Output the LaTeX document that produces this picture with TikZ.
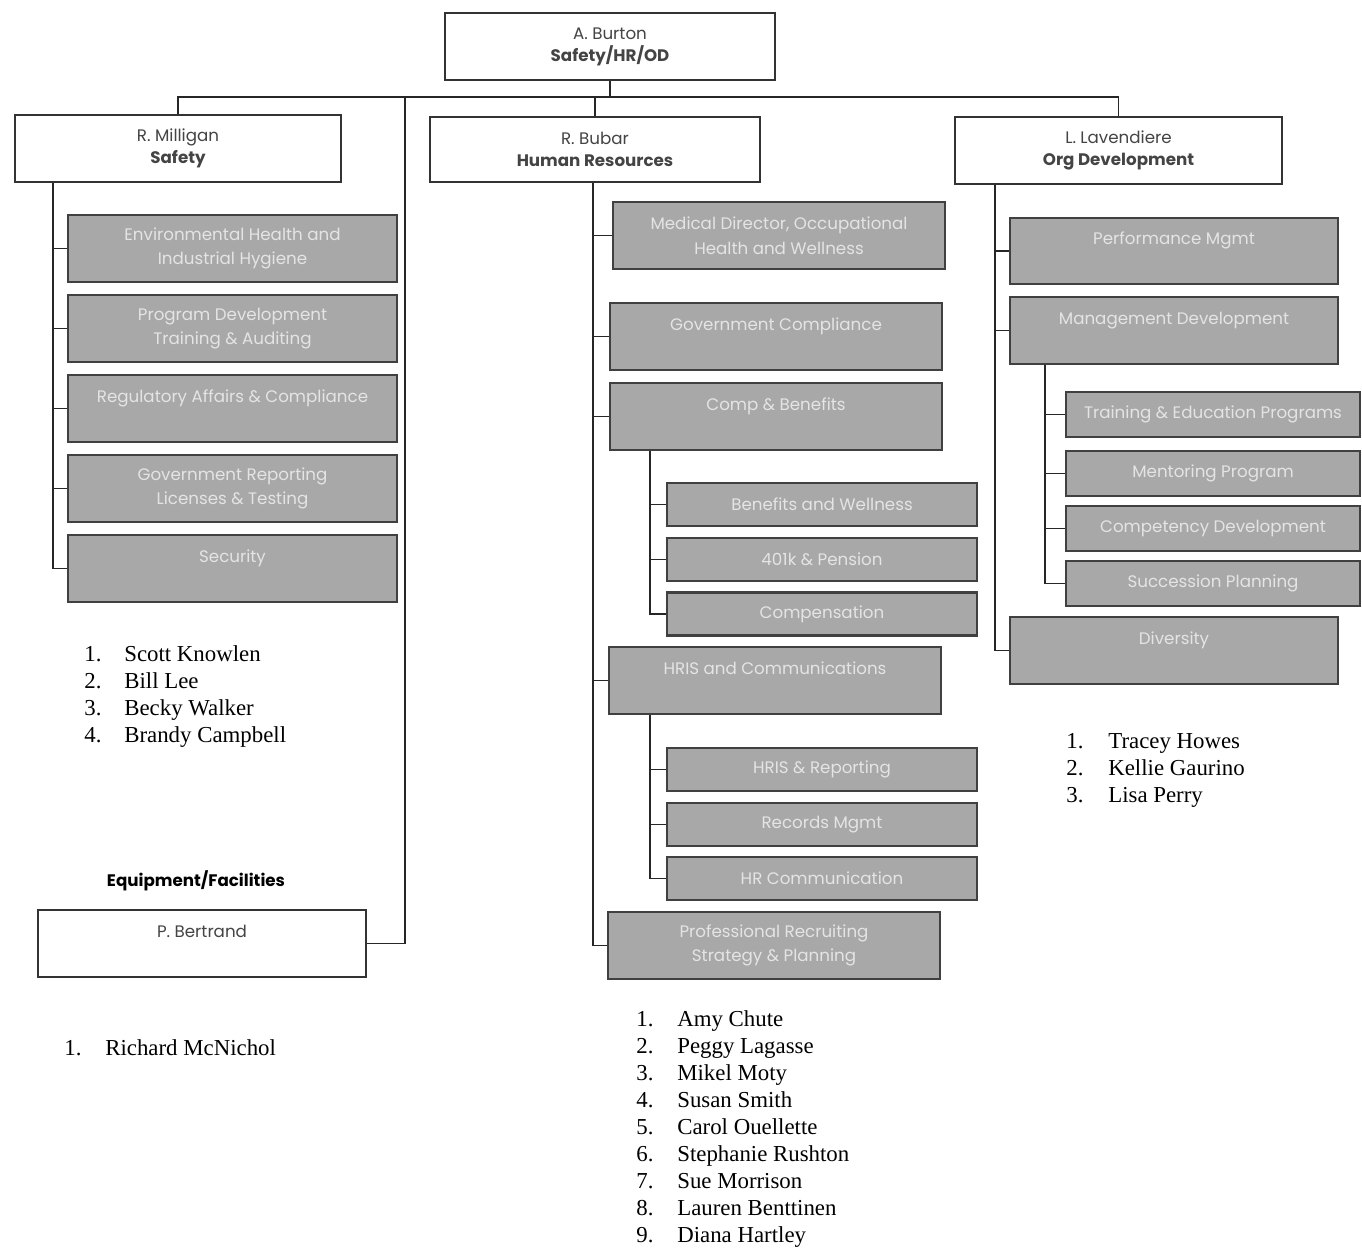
\documentclass[tikz,border=0pt]{standalone}
\usepackage{fontspec}
\setmainfont{Liberation Serif}
\newfontfamily\boxfont{Poppins}
\usetikzlibrary{positioning}
\definecolor{boxgray}{HTML}{A8A8A8}
\definecolor{boxtext}{HTML}{E4E4E4}
\definecolor{headtext}{HTML}{444444}
\tikzstyle{head} = [rectangle, minimum width=6.6cm, minimum height=1.34cm, text centered, align=center, draw=black!80, line width=1.6pt, fill=white, text=headtext, font=\boxfont\fontsize{9.5}{12.5}\selectfont]
\tikzstyle{unit} = [rectangle, minimum width=6.6cm, minimum height=1.34cm, text centered, align=center, draw=black!75, line width=1.6pt, fill=boxgray, text=boxtext, font=\boxfont\fontsize{9.5}{14}\selectfont]
\tikzstyle{subunit} = [unit, minimum width=6.2cm, minimum height=0.86cm]
\tikzstyle{uptext} = [text depth=0.5cm]
\tikzstyle{conn} = [line width=0.8pt, black!85]
\tikzstyle{namelist} = [anchor=base west, inner sep=0pt, font=\fontsize{13}{15.4}\selectfont]

\begin{document}
\begin{tikzpicture}[x=0.02cm, y=-0.02cm]
    \fill[white] (0,0) rectangle (1362,1248);
    \useasboundingbox (0,0) rectangle (1362,1248);
    % top level
    \node (burton) [head] at (610,46.5) {A. Burton\\\textbf{Safety/HR/OD}};
    \node (milligan) [head, minimum width=6.52cm] at (178,148.5) {R. Milligan\\\textbf{Safety}};
    \node (bubar) [head, minimum height=1.3cm] at (595,149.5) {R. Bubar\\\textbf{Human Resources}};
    \node (lavendiere) [head, minimum width=6.54cm] at (1118.5,150.5) {L. Lavendiere\\\textbf{Org Development}};
    \node (eqlabel) [font=\boxfont\bfseries\fontsize{9.5}{12}\selectfont] at (196,881) {Equipment/Facilities};
    \node (bertrand) [head, uptext, minimum width=6.56cm] at (202,943.5) {P. Bertrand};
    \coordinate (bus) at (0,97);
    \coordinate (eqtop) at (405,97);
    \coordinate (sspine) at (53,0);
    \coordinate (hspine) at (593,0);
    \coordinate (cspine) at (650,0);
    \coordinate (ospine) at (995,0);
    \coordinate (mspine) at (1045,0);
    % safety
    \node (envhealth) [unit, minimum width=6.58cm] at (232.5,248.5) {Environmental Health and\\Industrial Hygiene};
    \node (progdev) [unit, minimum width=6.58cm] at (232.5,328.5) {Program Development\\Training \& Auditing};
    \node (regaffairs) [unit, uptext, minimum width=6.58cm] at (232.5,408.5) {Regulatory Affairs \& Compliance};
    \node (govreport) [unit, minimum width=6.58cm] at (232.5,488.5) {Government Reporting\\Licenses \& Testing};
    \node (security) [unit, uptext, minimum width=6.58cm] at (232.5,568.5) {Security};
    % human resources
    \node (meddir) [unit, minimum width=6.64cm] at (779,235.5) {Medical Director, Occupational\\Health and Wellness};
    \node (govcomp) [unit, uptext, minimum width=6.64cm] at (776,336.5) {Government Compliance};
    \node (comp) [unit, uptext, minimum width=6.64cm] at (776,416.5) {Comp \& Benefits};
    \node (benefits) [subunit] at (822,504.5) {Benefits and Wellness};
    \node (pension) [subunit] at (822,559.5) {401k \& Pension};
    \node (compensation) [subunit] at (822,614) {Compensation};
    \node (hris) [unit, uptext, minimum width=6.64cm] at (775,680.5) {HRIS and Communications};
    \node (hrisrep) [subunit] at (822,769.5) {HRIS \& Reporting};
    \node (records) [subunit] at (822,824.5) {Records Mgmt};
    \node (hrcomm) [subunit] at (822,878.5) {HR Communication};
    \node (recruit) [unit, minimum width=6.64cm] at (774,945.5) {Professional Recruiting\\Strategy \& Planning};
    % org development
    \node (perf) [unit, uptext, minimum width=6.56cm, minimum height=1.32cm] at (1174,251) {Performance Mgmt};
    \node (mgmtdev) [unit, uptext, minimum width=6.56cm] at (1174,330.5) {Management Development};
    \node (training) [subunit, minimum width=5.88cm, minimum height=0.9cm] at (1213,414.5) {Training \& Education Programs};
    \node (mentoring) [subunit, minimum width=5.88cm, minimum height=0.9cm] at (1213,473.5) {Mentoring Program};
    \node (competency) [subunit, minimum width=5.88cm, minimum height=0.9cm] at (1213,528.5) {Competency Development};
    \node (succession) [subunit, minimum width=5.88cm, minimum height=0.9cm] at (1213,583.5) {Succession Planning};
    \node (diversity) [unit, uptext, minimum width=6.56cm] at (1174,650.5) {Diversity};
    % connectors
    \draw [conn] (burton.south) -- (burton.south |- bus);
    \draw [conn] (milligan.north) |- (lavendiere.north |- bus) -- (lavendiere.north);
    \draw [conn] (bubar.north) -- (bubar.north |- bus);
    \draw [conn] (bertrand.east) -| (eqtop);
    \draw [conn] (milligan.south -| sspine) |- (security.west);
    \foreach \n in {envhealth, progdev, regaffairs, govreport}
        \draw [conn] (sspine |- \n.west) -- (\n.west);
    \draw [conn] (bubar.south -| hspine) |- (recruit.west);
    \foreach \n in {meddir, govcomp, comp, hris}
        \draw [conn] (hspine |- \n.west) -- (\n.west);
    \draw [conn] (comp.south -| cspine) |- (compensation.west);
    \foreach \n in {benefits, pension}
        \draw [conn] (cspine |- \n.west) -- (\n.west);
    \draw [conn] (hris.south -| cspine) |- (hrcomm.west);
    \foreach \n in {hrisrep, records}
        \draw [conn] (cspine |- \n.west) -- (\n.west);
    \draw [conn] (lavendiere.south -| ospine) |- (diversity.west);
    \foreach \n in {perf, mgmtdev}
        \draw [conn] (ospine |- \n.west) -- (\n.west);
    \draw [conn] (mgmtdev.south -| mspine) |- (succession.west);
    \foreach \n in {training, mentoring, competency}
        \draw [conn] (mspine |- \n.west) -- (\n.west);
    % staff lists
    \node (safetylist) [namelist] at (84,661) {\begin{tabular}[t]{@{}p{0.8cm}@{}l@{}}
        1. & Scott Knowlen\\ 2. & Bill Lee\\ 3. & Becky Walker\\ 4. & Brandy Campbell\end{tabular}};
    \node (eqlist) [namelist] at (64,1055) {\begin{tabular}[t]{@{}p{0.82cm}@{}l@{}}
        1. & Richard McNichol\end{tabular}};
    \node (hrlist) [namelist] at (636,1026) {\begin{tabular}[t]{@{}p{0.82cm}@{}l@{}}
        1. & Amy Chute\\ 2. & Peggy Lagasse\\ 3. & Mikel Moty\\ 4. & Susan Smith\\ 5. & Carol Ouellette\\
        6. & Stephanie Rushton\\ 7. & Sue Morrison\\ 8. & Lauren Benttinen\\ 9. & Diana Hartley\end{tabular}};
    \node (odlist) [namelist] at (1066,748) {\begin{tabular}[t]{@{}p{0.84cm}@{}l@{}}
        1. & Tracey Howes\\ 2. & Kellie Gaurino\\ 3. & Lisa Perry\end{tabular}};
\end{tikzpicture}
\end{document}
